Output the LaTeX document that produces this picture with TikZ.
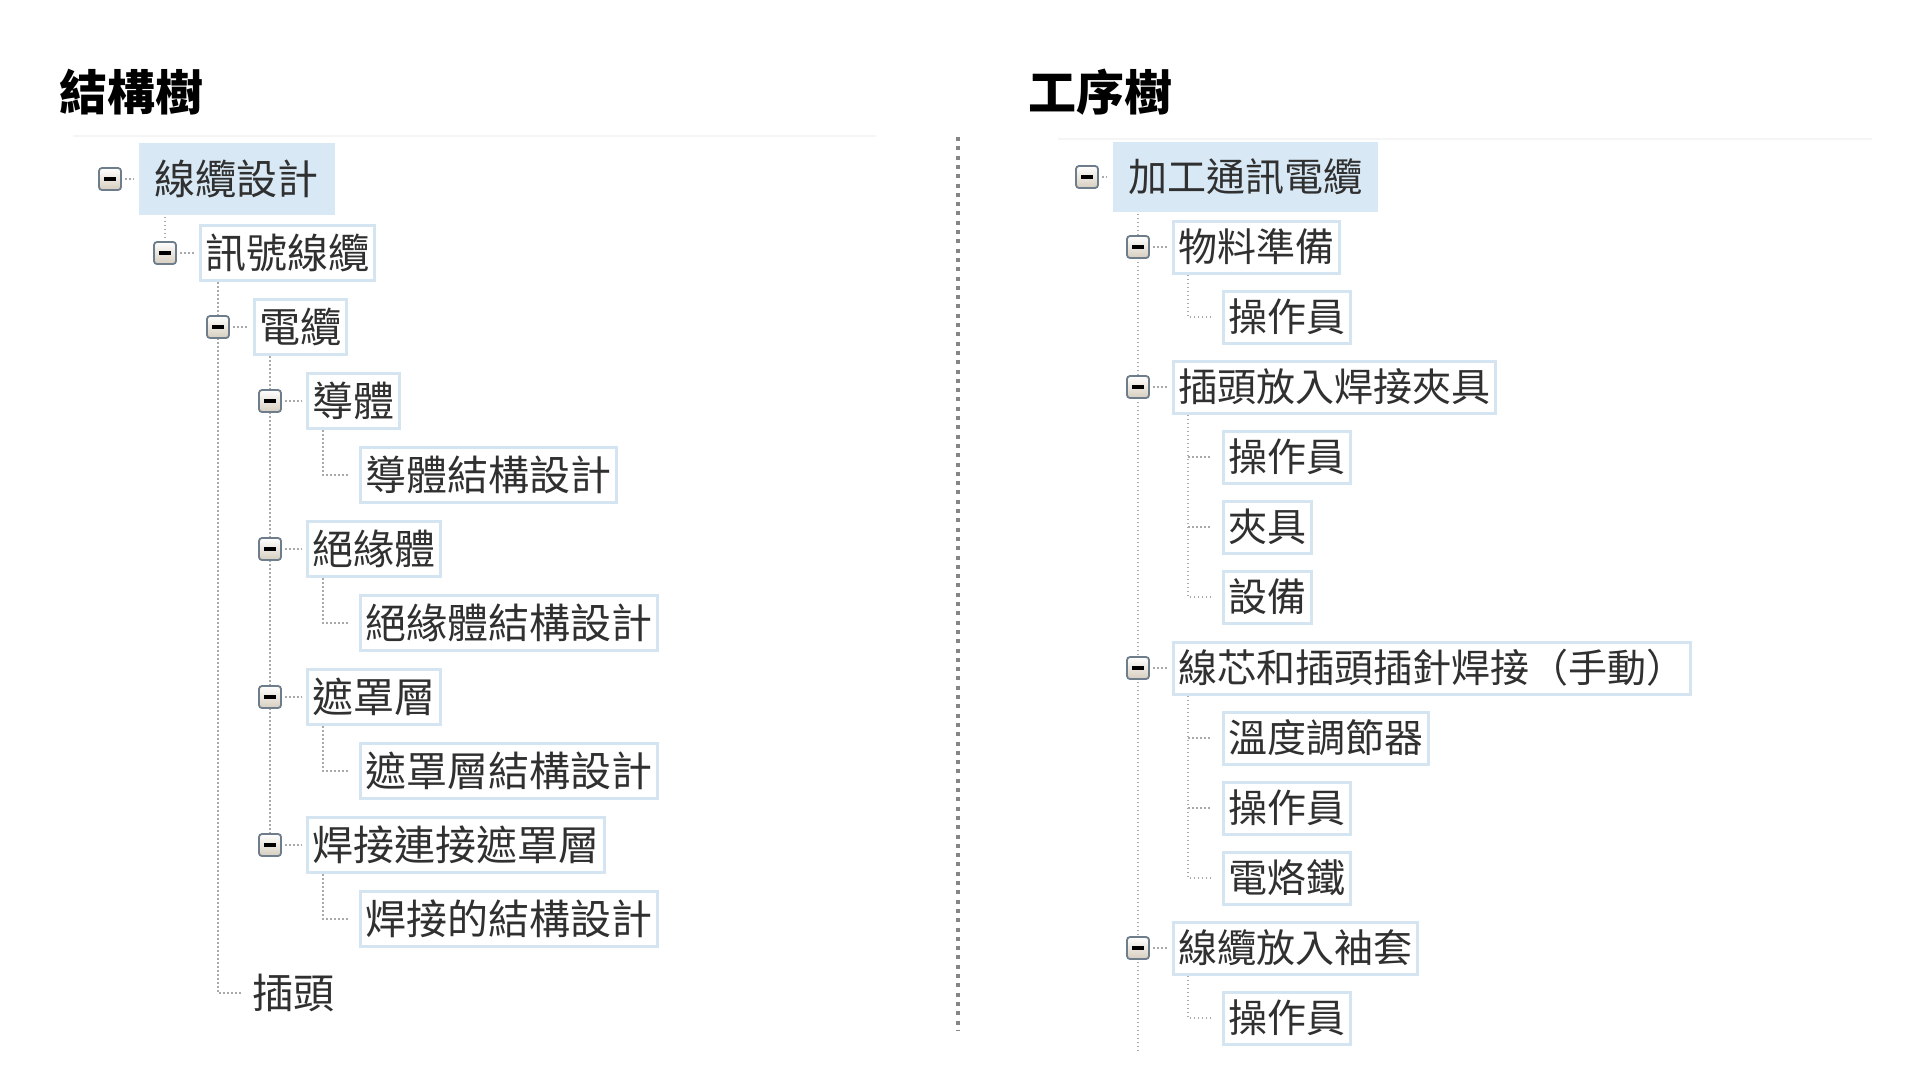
\documentclass[tikz,border=0pt]{standalone}
\usepackage{fontspec}
\newfontfamily\cjk{Noto Sans CJK TC}
\usetikzlibrary{backgrounds}
\definecolor{bord}{HTML}{D4E5F1}
\definecolor{rootfill}{HTML}{D8E8F4}
\definecolor{txt}{HTML}{303030}
\definecolor{dotc}{HTML}{A9A9A9}
\definecolor{expb}{HTML}{6E7D8C}
\definecolor{expbot}{HTML}{D6CDBE}
\definecolor{sepc}{HTML}{F5F5F5}
\definecolor{divc}{HTML}{858585}
\newcommand\expnd[2]{\node[expbox] (#1) at (#2) {}; \fill[black] (#1.center) +(-6,-2.2) rectangle +(6,2.2);}
\begin{document}
\begin{tikzpicture}[x=1pt,y=-1pt,
  lnode/.style={draw=bord, line width=3pt, fill=white, inner xsep=5pt, inner ysep=0pt,
    minimum height=55pt, anchor=west, text=txt, text height=35.3pt, text depth=4.1pt,
    font=\cjk\fontsize{41}{49}\selectfont},
  lroot/.style={lnode, draw=none, fill=rootfill, inner xsep=16pt, minimum height=72pt},
  lplain/.style={lnode, draw=none, fill=none},
  rnode/.style={draw=bord, line width=3pt, fill=white, inner xsep=5pt, inner ysep=0pt,
    minimum height=52pt, anchor=west, text=txt, text height=33.5pt, text depth=3.9pt,
    font=\cjk\fontsize{39}{47}\selectfont},
  rroot/.style={rnode, draw=none, fill=rootfill, inner xsep=15.5pt, minimum height=70pt},
  expbox/.style={rectangle, rounded corners=3pt, minimum width=22pt, minimum height=22pt,
    inner sep=0pt, draw=expb, line width=1.8pt, top color=white, bottom color=expbot},
  dotline/.style={draw=dotc, line width=1.6pt, dash pattern=on 1.6pt off 2.4pt},
  title/.style={anchor=west, inner sep=0pt, text=black, text height=41.3pt, text depth=4.8pt,
    font=\cjk\bfseries\fontsize{48}{56}\selectfont}]
\useasboundingbox (0,0) rectangle (1920,1080);

% titles
\node[title] (t1) at (59,92) {結構樹};
\node[title] (t2) at (1028,92) {工序樹};

% left tree nodes
\node[lroot] (n0) at (137,179) {線纜設計};
\node[lnode] (n1) at (198.5,253) {訊號線纜};
\node[lnode] (n2) at (252.5,327) {電纜};
\node[lnode] (n3) at (305.5,401) {導體};
\node[lnode] (n4) at (358.5,475) {導體結構設計};
\node[lnode] (n5) at (305.5,549) {絕緣體};
\node[lnode] (n6) at (358.5,623) {絕緣體結構設計};
\node[lnode] (n7) at (305.5,697) {遮罩層};
\node[lnode] (n8) at (358.5,771) {遮罩層結構設計};
\node[lnode] (n9) at (305.5,845) {焊接連接遮罩層};
\node[lnode] (n10) at (358.5,919) {焊接的結構設計};
\node[lplain] (n11) at (246,993) {插頭};

% right tree nodes
\node[rroot] (r0) at (1111,177) {加工通訊電纜};
\node[rnode] (r1) at (1171.5,247) {物料準備};
\node[rnode] (r2) at (1221.5,317) {操作員};
\node[rnode] (r3) at (1171.5,387) {插頭放入焊接夾具};
\node[rnode] (r4) at (1221.5,457) {操作員};
\node[rnode] (r5) at (1221.5,527) {夾具};
\node[rnode] (r6) at (1221.5,597) {設備};
\node[rnode] (r7) at (1171.5,668) {線芯和插頭插針焊接（手動）};
\node[rnode] (r8) at (1221.5,738) {溫度調節器};
\node[rnode] (r9) at (1221.5,808) {操作員};
\node[rnode] (r10) at (1221.5,878) {電烙鐵};
\node[rnode] (r11) at (1171.5,948) {線纜放入袖套};
\node[rnode] (r12) at (1221.5,1018) {操作員};

% expanders
\expnd{e0}{110,179}
\expnd{e1}{165,253}
\expnd{e2}{218,327}
\expnd{e3}{270,401}
\expnd{e5}{270,549}
\expnd{e7}{270,697}
\expnd{e9}{270,845}
\expnd{re0}{1087,177}
\expnd{re1}{1138,247}
\expnd{re3}{1138,387}
\expnd{re7}{1138,668}
\expnd{re11}{1138,948}

\coordinate (rend) at (1138,1050);
\coordinate (dtop) at (958,137);
\coordinate (dbot) at (958,1031);

\begin{scope}[on background layer]
\fill[white] (0,0) rectangle (1920,1080);
% faint separators
\draw[sepc, line width=2pt] (73,136) -- (876,136);
\draw[sepc, line width=2pt] (1058,139) -- (1872,139);
% divider
\draw[divc, line width=4pt, dash pattern=on 4pt off 5.3pt] (dtop) -- (dbot);

% left tree connectors
\draw[dotline] (e1 |- n0.south) -- (e1);
\draw[dotline, shorten >=4pt] (e2 |- n1.south) |- (n11.west);
\draw[dotline] (e3 |- n2.south) -- (e9);
\foreach \p/\c in {n3/n4, n5/n6, n7/n8, n9/n10}
  \draw[dotline, shorten >=9pt] ([xshift=17.5pt]\p.south west) |- (\c.west);
\foreach \e/\n in {e0/n0, e1/n1, e2/n2, e3/n3, e5/n5, e7/n7, e9/n9}
  \draw[dotline, shorten <=3pt, shorten >=4pt] (\e.east) -- (\n.west);

% right tree connectors
\draw[dotline] (re1 |- r0.south) -- (rend);
\draw[dotline, shorten >=10pt] ([xshift=16.5pt]r1.south west) |- (r2.west);
\draw[dotline, shorten >=10pt] ([xshift=16.5pt]r3.south west) |- (r6.west);
\draw[dotline, shorten >=10pt] ([xshift=16.5pt]r3.south west |- r4.west) -- (r4.west);
\draw[dotline, shorten >=10pt] ([xshift=16.5pt]r3.south west |- r5.west) -- (r5.west);
\draw[dotline, shorten >=10pt] ([xshift=16.5pt]r7.south west) |- (r10.west);
\draw[dotline, shorten >=10pt] ([xshift=16.5pt]r7.south west |- r8.west) -- (r8.west);
\draw[dotline, shorten >=10pt] ([xshift=16.5pt]r7.south west |- r9.west) -- (r9.west);
\draw[dotline, shorten >=10pt] ([xshift=16.5pt]r11.south west) |- (r12.west);
\foreach \e/\n in {re0/r0, re1/r1, re3/r3, re7/r7, re11/r11}
  \draw[dotline, shorten <=3pt, shorten >=4pt] (\e.east) -- (\n.west);
\end{scope}
\end{tikzpicture}
\end{document}
